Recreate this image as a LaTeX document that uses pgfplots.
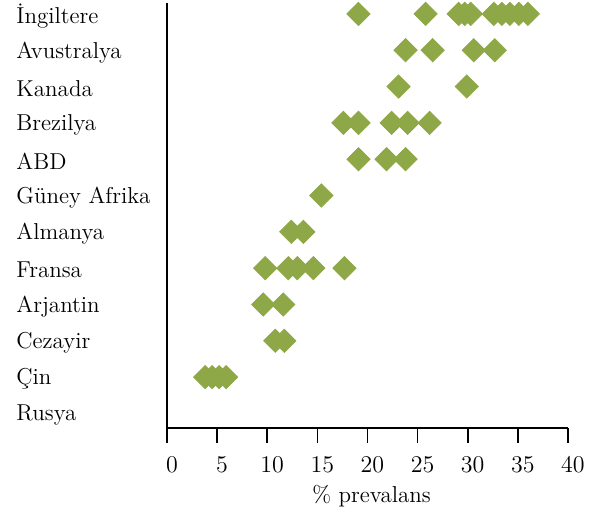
\documentclass[border=0pt]{standalone}
\usepackage{fontspec}
\setmainfont{Latin Modern Roman}
\usepackage{pgfplots}
\pgfplotsset{compat=1.18}
\definecolor{dia}{RGB}{142,168,72}
\pgfplotstableread{
x y
19.1 11
25.8 11
29.1 11
29.7 11
30.3 11
32.6 11
33.4 11
34.2 11
35.1 11
36.0 11
23.8 10
26.5 10
30.6 10
32.7 10
23.1 9
29.9 9
17.6 8
19.1 8
22.4 8
24.0 8
26.2 8
19.1 7
21.9 7
23.8 7
15.4 6
12.4 5
13.6 5
9.8 4
12.1 4
13.0 4
14.6 4
17.7 4
9.6 3
11.6 3
10.8 2
11.7 2
3.8 1
4.5 1
5.2 1
5.9 1
}\prevtable
\begin{document}
\begin{tikzpicture}
\begin{axis}[
  at={(0,0)}, anchor=south west, scale only axis,
  width=200.5pt, height=212.5pt,
  xmin=0, xmax=40, ymin=-0.4, ymax=11.3,
  axis lines=left,
  axis line style={-, line width=0.9pt, black},
  xtick={0,5,...,40},
  ytick={0,...,11},
  yticklabels={Rusya, Çin, Cezayir, Arjantin, Fransa, Almanya, Güney Afrika, ABD, Brezilya, Kanada, Avustralya, İngiltere},
  ytick style={draw=none},
  xtick style={line width=0.8pt, black},
  major tick length=7.5pt,
  tick align=outside,
  tick label style={font=\fontsize{11.5}{13}\selectfont},
  yticklabel style={anchor=west, xshift=-71.3pt, yshift=-1pt},
  xticklabel style={xshift=2.5pt, yshift=-3.5pt},
  xlabel={\% prevalans},
  xlabel style={font=\fontsize{11.5}{13}\selectfont, at={(axis description cs:0.5,0)}, anchor=center, yshift=-34pt, xshift=2pt},
  clip=false,
]
\addplot[dia, only marks, mark=square*, mark size=4.1pt, mark options={rotate=45, fill=dia, draw=dia}] table[x=x, y=y] {\prevtable};
\end{axis}
\pgfresetboundingbox
\useasboundingbox (-83.5pt,-43pt) rectangle (216.5pt,214pt);
\end{tikzpicture}
\end{document}
